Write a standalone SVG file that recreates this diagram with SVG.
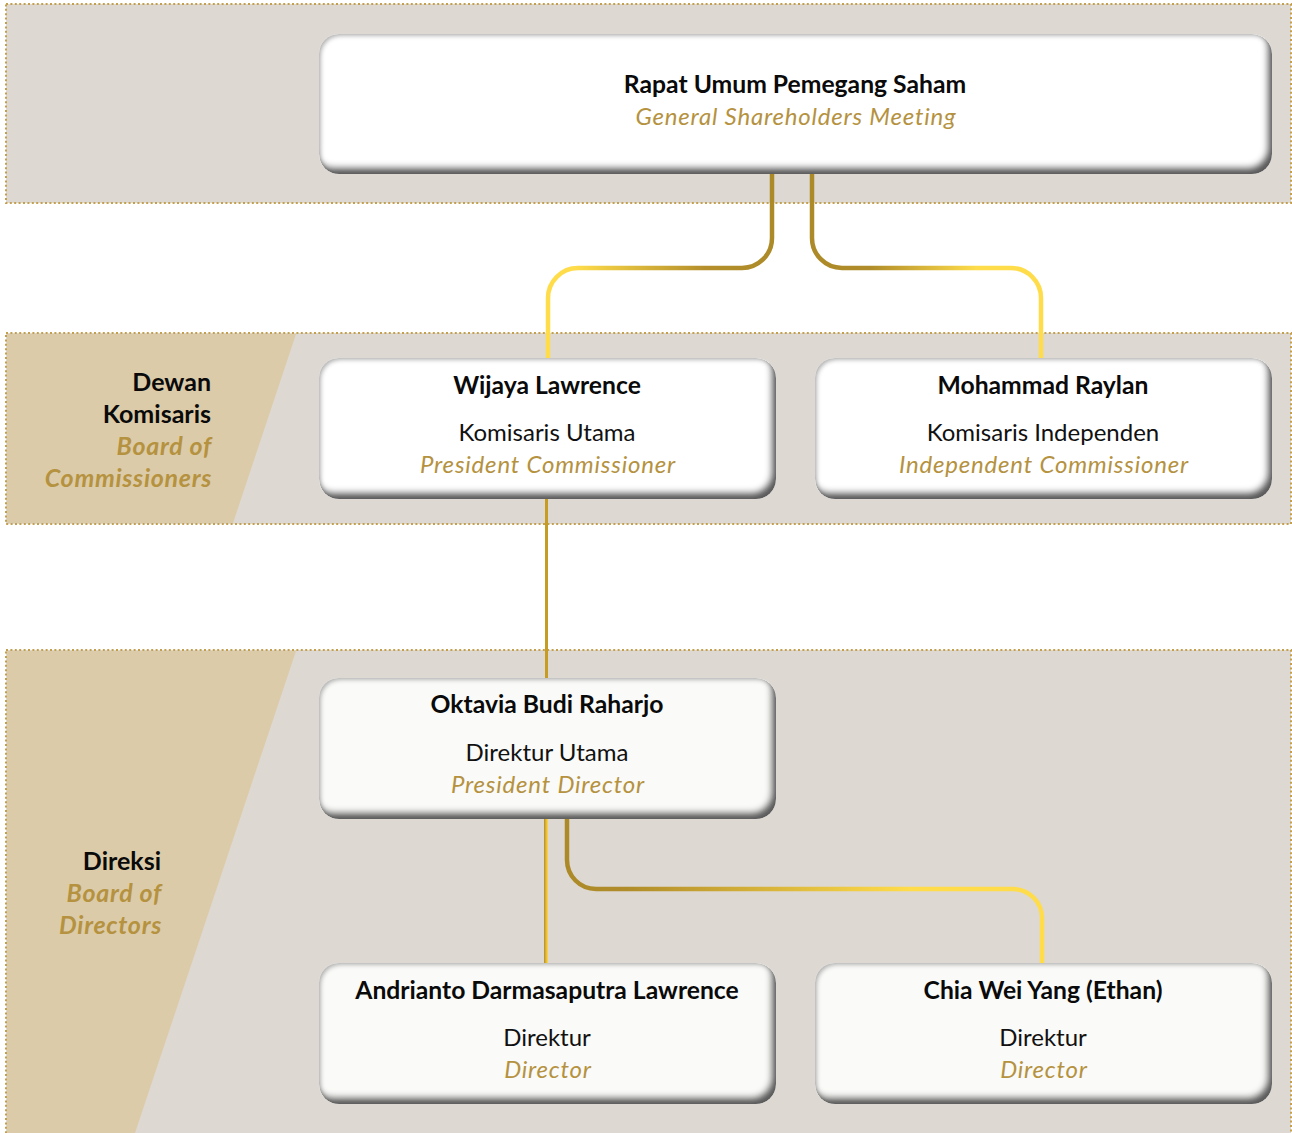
<svg xmlns="http://www.w3.org/2000/svg" width="1292" height="1133" viewBox="0 0 1292 1133">
<defs>
<style>
.band{fill:#ddd8d1;stroke:#c4a04e;stroke-width:2;stroke-dasharray:2 2.4}
.tan{fill:#dccba8}
.box{fill:#ffffff;filter:url(#bevel)}
.box2{fill:#fafaf8;filter:url(#bevel)}
.name{font-family:Lato,"Noto Sans",sans-serif;font-weight:700;font-size:24.7px;fill:#0a0a0a;text-anchor:middle}
.role{font-family:Lato,"Noto Sans",sans-serif;font-weight:400;font-size:24px;fill:#111;text-anchor:middle}
.en{font-family:Lato,"Noto Sans",sans-serif;font-style:italic;font-size:24px;letter-spacing:0.8px;fill:#b5923f;text-anchor:middle}
.lbl{font-family:Lato,"Noto Sans",sans-serif;font-weight:700;font-size:25px;fill:#0a0a0a;text-anchor:end}
.lblen{font-family:Lato,"Noto Sans",sans-serif;font-weight:700;font-style:italic;font-size:25px;letter-spacing:0.7px;fill:#b5923f;text-anchor:end}
.conn{fill:none;stroke-width:4.5}
</style>
<filter id="bevel" x="-5%" y="-10%" width="110%" height="120%">
<feGaussianBlur in="SourceAlpha" stdDeviation="3" result="b"/>
<feOffset in="b" dx="-5" dy="-7" result="o"/>
<feComposite in="SourceAlpha" in2="o" operator="arithmetic" k2="1" k3="-1" result="s"/>
<feFlood flood-color="#5a5a5a"/>
<feComposite in2="s" operator="in" result="sh"/>
<feGaussianBlur in="SourceAlpha" stdDeviation="2" result="b2"/>
<feOffset in="b2" dx="2" dy="2" result="o2"/>
<feComposite in="SourceAlpha" in2="o2" operator="arithmetic" k2="1" k3="-1" result="s2"/>
<feFlood flood-color="#b0b0b0"/>
<feComposite in2="s2" operator="in" result="sh2"/>
<feMerge><feMergeNode in="SourceGraphic"/><feMergeNode in="sh2"/><feMergeNode in="sh"/></feMerge>
</filter>
<linearGradient id="gL" gradientUnits="userSpaceOnUse" x1="548" y1="0" x2="772" y2="0">
<stop offset="0" stop-color="#ffdc4a"/><stop offset="0.12" stop-color="#ffdc4a"/><stop offset="0.7" stop-color="#b48f2c"/><stop offset="1" stop-color="#ad8a28"/>
</linearGradient>
<linearGradient id="gR" gradientUnits="userSpaceOnUse" x1="812" y1="0" x2="1041" y2="0">
<stop offset="0" stop-color="#ad8a28"/><stop offset="0.25" stop-color="#b08c2a"/><stop offset="0.72" stop-color="#ffdc4a"/><stop offset="1" stop-color="#ffdc4a"/>
</linearGradient>
<linearGradient id="gB" gradientUnits="userSpaceOnUse" x1="567" y1="0" x2="1043" y2="0">
<stop offset="0" stop-color="#ad8a28"/><stop offset="0.12" stop-color="#b08c2a"/><stop offset="0.72" stop-color="#ffdc4a"/><stop offset="1" stop-color="#ffdc4a"/>
</linearGradient>
<linearGradient id="gV" x1="0" y1="0" x2="1" y2="0">
<stop offset="0" stop-color="#b08c2a"/><stop offset="0.5" stop-color="#e0b83a"/><stop offset="1" stop-color="#ffd84a"/>
</linearGradient>
</defs>
<rect width="1292" height="1133" fill="#ffffff"/>
<g id="bands">
<rect class="band" x="6" y="4" width="1285" height="199"/>
<rect class="band" x="6" y="333" width="1285" height="191"/>
<polygon class="tan" points="7,334 296,334 233,523 7,523"/>
<rect class="band" x="6" y="650" width="1285" height="490"/>
<polygon class="tan" points="7,651 296,651 135,1133 7,1133"/>
</g>
<g id="section-labels">
<text class="lbl" x="211" y="391">Dewan</text>
<text class="lbl" x="211" y="423">Komisaris</text>
<text class="lblen" x="212" y="455">Board of</text>
<text class="lblen" x="212" y="487">Commissioners</text>
<text class="lbl" x="161" y="870">Direksi</text>
<text class="lblen" x="162" y="902">Board of</text>
<text class="lblen" x="162" y="934">Directors</text>
</g>
<g id="connectors">
<path class="conn" stroke="url(#gL)" d="M772,174 V238 A30,30 0 0 1 742,268 H578 A30,30 0 0 0 548,298 V360"/>
<path class="conn" stroke="url(#gR)" d="M812,174 V238 A30,30 0 0 0 842,268 H1011 A30,30 0 0 1 1041,298 V360"/>
<rect x="545" y="497" width="3" height="183" fill="#c69c22"/>
<rect x="544" y="817" width="4" height="148" fill="url(#gV)"/>
<path class="conn" stroke="url(#gB)" d="M567,819 V860 A29,29 0 0 0 596,889 H1013 A29,29 0 0 1 1042,918 V965"/>
</g>
<g id="rups">
<rect class="box" x="319" y="34" width="953" height="140" rx="20"/>
<text class="name" x="795" y="93">Rapat Umum Pemegang Saham</text>
<text class="en" x="796" y="125">General Shareholders Meeting</text>
</g>
<g id="wijaya">
<rect class="box" x="319" y="358" width="457" height="141" rx="20"/>
<text class="name" x="547" y="394">Wijaya Lawrence</text>
<text class="role" x="547" y="441">Komisaris Utama</text>
<text class="en" x="548" y="473">President Commissioner</text>
</g>
<g id="mohammad">
<rect class="box" x="815" y="358" width="457" height="141" rx="20"/>
<text class="name" x="1043" y="394">Mohammad Raylan</text>
<text class="role" x="1043" y="441">Komisaris Independen</text>
<text class="en" x="1044" y="473">Independent Commissioner</text>
</g>
<g id="oktavia">
<rect class="box2" x="319" y="678" width="457" height="141" rx="20"/>
<text class="name" x="547" y="713">Oktavia Budi Raharjo</text>
<text class="role" x="547" y="761">Direktur Utama</text>
<text class="en" x="548" y="793">President Director</text>
</g>
<g id="andrianto">
<rect class="box2" x="319" y="963" width="457" height="141" rx="20"/>
<text class="name" x="547" y="999">Andrianto Darmasaputra Lawrence</text>
<text class="role" x="547" y="1046">Direktur</text>
<text class="en" x="548" y="1078">Director</text>
</g>
<g id="chia">
<rect class="box2" x="815" y="963" width="457" height="141" rx="20"/>
<text class="name" x="1043" y="999">Chia Wei Yang (Ethan)</text>
<text class="role" x="1043" y="1046">Direktur</text>
<text class="en" x="1044" y="1078">Director</text>
</g>
</svg>
